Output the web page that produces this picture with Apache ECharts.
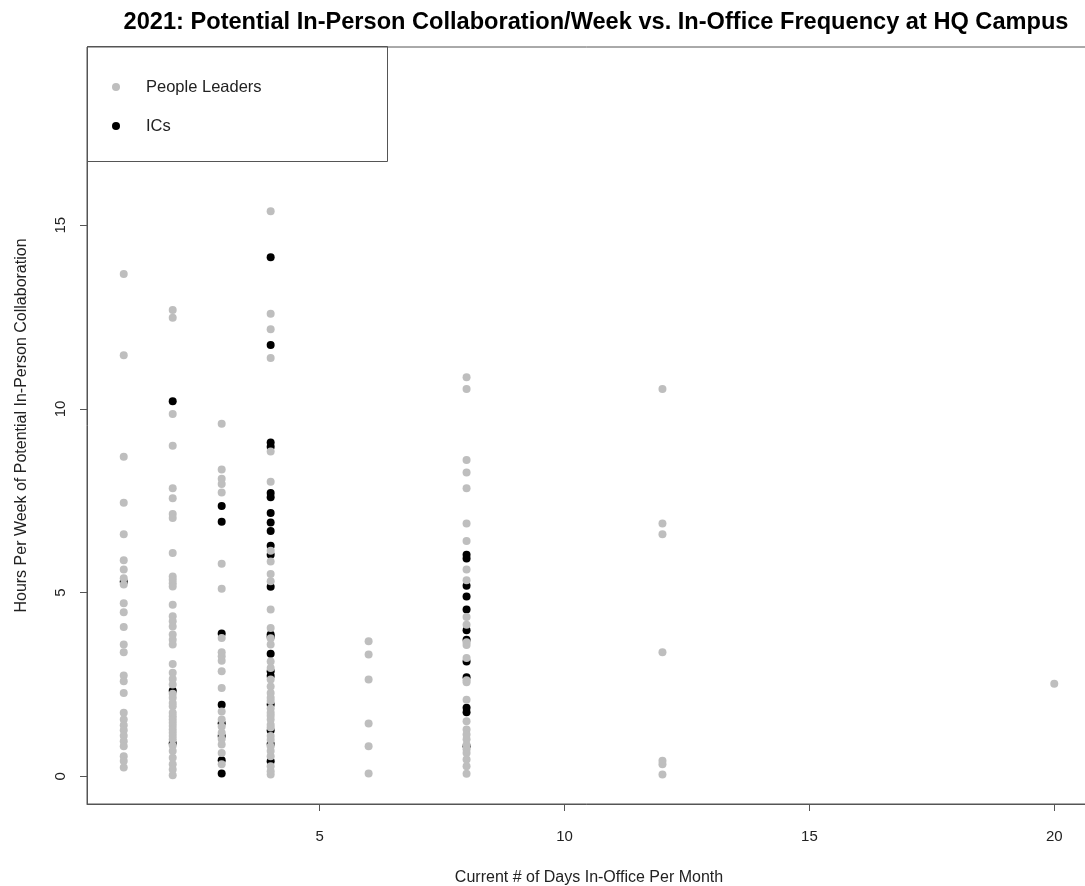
<!DOCTYPE html>
<html>
<head>
<meta charset="utf-8">
<script src="https://cdn.jsdelivr.net/npm/echarts@6/dist/echarts.min.js"></script>
<style>html,body{margin:0;padding:0;background:#fff}#c{width:1085px;height:886px}</style>
</head>
<body>
<div id="c"></div>
<script>
// ---- data (hours per week, grouped by days in office per month) ----
const leaders_d1  = [13.67, 11.46, 8.70, 7.45, 6.59, 5.88, 5.63, 5.39, 5.22, 4.71, 4.47, 4.07, 3.59, 3.38, 2.75, 2.59, 2.27, 1.73, 1.55, 1.39, 1.26, 1.11, 0.96, 0.82, 0.55, 0.42, 0.24];
const leaders_d2  = [12.69, 12.48, 9.86, 9.00, 7.84, 7.57, 7.14, 7.03, 6.08, 5.44, 5.35, 5.26, 5.17, 4.67, 4.36, 4.22, 4.08, 3.86, 3.72, 3.59, 3.06, 2.82, 2.65, 2.50, 2.25, 2.14, 2.00, 1.91, 1.73, 1.64, 1.55, 1.46, 1.37, 1.28, 1.19, 1.10, 1.01, 0.84, 0.69, 0.51, 0.33, 0.19, 0.03];
const leaders_d3  = [9.60, 8.35, 8.10, 7.96, 7.73, 5.79, 5.11, 3.77, 3.38, 3.27, 3.15, 2.86, 2.41, 1.77, 1.55, 1.36, 1.19, 1.02, 0.87, 0.64, 0.33];
const leaders_d4  = [15.38, 12.59, 12.17, 11.39, 8.84, 8.02, 6.14, 5.85, 5.51, 5.31, 4.54, 4.04, 3.76, 3.59, 3.13, 2.95, 2.64, 2.45, 2.27, 2.14, 2.05, 1.85, 1.73, 1.65, 1.55, 1.41, 1.33, 1.10, 1.00, 0.82, 0.69, 0.55, 0.28, 0.14, 0.05];
const leaders_d6  = [3.68, 3.32, 2.64, 1.44, 0.82, 0.08];
const leaders_d8  = [10.86, 10.54, 8.61, 8.27, 7.84, 6.88, 6.41, 5.63, 5.34, 4.34, 4.13, 3.65, 3.58, 3.22, 2.62, 2.56, 2.09, 1.50, 1.28, 1.14, 1.01, 0.86, 0.74, 0.64, 0.46, 0.28, 0.07];
const leaders_d12 = [10.54, 6.88, 6.59, 3.38, 0.43, 0.33, 0.05];
const leaders_d20 = [2.52];

const ics_d1 = [5.30];
const ics_d2 = [10.21, 2.33, 0.90];
const ics_d3 = [7.36, 6.93, 3.89, 1.95, 1.45, 1.10, 0.44, 0.08];
const ics_d4 = [14.13, 11.74, 9.09, 8.97, 7.71, 7.60, 7.17, 6.91, 6.68, 6.28, 6.03, 5.16, 3.86, 3.80, 3.34, 2.86, 2.73, 1.96, 1.25, 0.88, 0.41];
const ics_d8 = [6.03, 5.93, 5.19, 4.90, 4.54, 3.98, 3.72, 3.13, 2.70, 1.87, 1.75, 0.82];

const xTicks = [5, 10, 15, 20];
const yTicks = [0, 5, 10, 15];

const titleText = '2021: Potential In-Person Collaboration/Week vs. In-Office Frequency at HQ Campus';
const xName = 'Current # of Days In-Office Per Month';
const yName = 'Hours Per Week of Potential In-Person Collaboration';

function pairs(groups) {
  const out = [];
  groups.forEach(([d, arr]) => arr.forEach(v => out.push([d, v])));
  return out;
}
const leadersData = pairs([[1, leaders_d1], [2, leaders_d2], [3, leaders_d3], [4, leaders_d4], [6, leaders_d6], [8, leaders_d8], [12, leaders_d12], [20, leaders_d20]]);
const icsData = pairs([[1, ics_d1], [2, ics_d2], [3, ics_d3], [4, ics_d4], [8, ics_d8]]);

const FONT = '"Liberation Sans", Arial, sans-serif';
const AX = '#555';

const chart = echarts.init(document.getElementById('c'), null, {renderer: 'canvas'});
chart.setOption({
  animation: false,
  backgroundColor: '#fff',
  textStyle: {fontFamily: FONT},
  title: {
    text: titleText,
    left: 591, top: 5, textAlign: 'center',
    textStyle: {fontFamily: FONT, fontWeight: 'bold', fontSize: 23.6, color: '#000'}
  },
  grid: {left: 87, top: 47, width: 1004, height: 757, outerBoundsMode: 'none', containLabel: false,
         show: true, borderColor: AX, borderWidth: 1, backgroundColor: 'transparent'},
  legend: {
    orient: 'vertical', left: 107, top: 72,
    data: ['People Leaders', 'ICs'],
    icon: 'circle', itemWidth: 8, itemHeight: 8, itemGap: 19,
    textStyle: {fontFamily: FONT, fontSize: 16.5, color: '#222', lineHeight: 20, padding: [0, 0, 0, 21]}
  },
  xAxis: {
    type: 'value', min: 0.25, max: 20.75,
    name: xName, nameLocation: 'middle', nameGap: 66,
    nameTextStyle: {fontFamily: FONT, fontSize: 16, color: '#222'},
    axisLine: {show: true, onZero: false, lineStyle: {color: AX}},
    axisTick: {show: true, length: 7, customValues: xTicks, lineStyle: {color: AX}},
    axisLabel: {customValues: xTicks, margin: 25, fontFamily: FONT, fontSize: 15, color: '#222'},
    splitLine: {show: false}
  },
  yAxis: {
    type: 'value', min: -0.75, max: 19.85,
    name: yName, nameLocation: 'middle', nameGap: 57,
    nameTextStyle: {fontFamily: FONT, fontSize: 16, color: '#222'},
    axisLine: {show: true, onZero: false, lineStyle: {color: AX}},
    axisTick: {show: true, length: 7, customValues: yTicks, lineStyle: {color: AX}},
    axisLabel: {customValues: yTicks, rotate: 90, margin: 19, fontFamily: FONT, fontSize: 15, color: '#222'},
    splitLine: {show: false}
  },
  graphic: [{
    type: 'rect',
    shape: {x: 87.5, y: 46.5, width: 300, height: 115},
    style: {fill: 'none', stroke: AX, lineWidth: 1}, z: 100
  }],
  series: [
    {name: 'ICs', type: 'scatter', data: icsData, symbol: 'circle', symbolSize: 8,
     itemStyle: {color: '#000', opacity: 1}},
    {name: 'People Leaders', type: 'scatter', data: leadersData, symbol: 'circle', symbolSize: 8,
     itemStyle: {color: '#bebebe', opacity: 1}}
  ]
});
</script>
</body>
</html>
